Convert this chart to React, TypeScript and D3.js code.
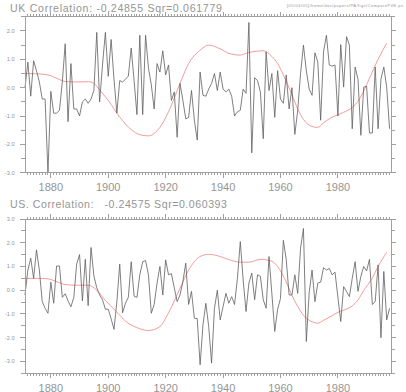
import React, { useLayoutEffect, useRef } from 'react';
import * as d3 from 'd3';

const startYear = 1871;
const ukValues = [
  0.0, 0.9, -0.3, 0.95, 0.6, 0.2, -0.4, -0.4, -3.0, -0.13,
  -0.9, -0.9, -0.8, 0.2, 1.55, -1.2, 0.85, -0.75, -0.75, -1.0,
  -0.5, -0.4, -0.55, -0.4, -0.1, 1.95, -0.5, 0.8, 1.95, 0.4,
  1.7, 0.3, -0.9, 0.25, 0.2, 0.3, 0.4, 1.4, 0.25, -0.95,
  1.85, -0.95, 1.85, 0.7, 0.1, -0.75, 0.85, 0.55, 1.3, 0.45,
  0.8, -0.45, -0.15, -1.75, 0.15, -0.45, -1.1, -1.05, -0.1, -1.15,
  -1.85, 0.55, -0.27, -0.3, -0.05, 0.15, 0.5, -0.1, 0.55, -0.05,
  -0.15, -0.05, -0.3, -1.0, -0.85, -0.8, -0.05, -0.2, 2.3, -2.3,
  0.35, 0.25, -0.15, -1.8, 1.26, -0.1, 0.5, -1.05, 0.6, -0.4,
  -0.55, 0.45, -0.75, 0.0, -1.65, -0.8, 0.5, 1.5, 0.6, -0.05,
  -0.27, 1.23, 0.9, -1.15, 1.26, 1.85, 0.8, 0.76, 0.8, -1.0,
  1.52, 0.02, 1.8, 1.5, -1.45, 0.73, 0.3, -1.68, 0.02, 0.05,
  -1.6, -1.6, 0.73, -1.45, 0.3, 0.73, 0.02, -1.45,
];
const usValues = [
  -0.2, 0.85, 1.35, 0.5, 1.7, 0.85, -0.48, -0.76, -0.97, 0.34,
  -0.55, 1.02, 1.02, -0.3, -0.15, -0.45, -0.7, -0.3, 1.1, 1.5,
  -0.45, 1.3, -0.65, 1.8, 0.6, 0.1, -0.2, -0.4, -0.8, -0.8,
  -1.2, -1.65, -0.5, 1.1, -0.95, -0.55, -0.3, 1.2, -0.25, -0.3,
  0.65, 1.2, 1.25, 0.65, -0.97, -0.6, 0.3, 1.0, -0.2, 1.28,
  0.65, 0.7, 0.1, -0.48, -0.2, 0.36, 1.14, -0.6, -0.05, -1.18,
  -1.2, -3.14, -1.46, -0.55, -1.53, -3.07, -0.76, 0.0, -1.25, -0.69,
  -0.13, -0.55, -0.27, -0.6, 0.5, 2.05, 0.43, -0.9, 0.3, 0.72,
  -0.4, 0.65, 0.58, -0.4, -0.76, 1.42, -0.15, -1.74, -0.8, -0.35,
  2.1, 1.3, -0.2, -0.2, 0.65, -0.13, 1.77, 2.6, -2.16, -0.1,
  0.85, -0.48, 0.3, 0.34, 0.95, 0.85, 0.92, 0.65, 0.76, -0.3,
  -1.32, 0.15, -0.05, -0.27, 0.5, 1.2, -0.05, 0.58, 1.0, 0.81,
  1.3, -0.6, -0.48, 1.07, -2.0, 0.79, -1.25, -0.76,
];
const ukSmoothYears = [1871, 1875, 1879, 1882, 1885, 1889, 1893, 1895, 1897, 1900, 1904, 1908, 1911, 1914, 1918, 1921, 1925, 1928, 1932, 1935, 1939, 1942, 1946, 1949, 1954, 1957, 1959, 1961, 1964, 1966, 1968, 1971, 1973, 1975, 1978, 1980, 1982, 1985, 1987, 1989, 1991, 1994, 1997];
const ukSmoothValues = [0.5, 0.49, 0.45, 0.33, 0.22, 0.2, 0.21, 0.15, -0.08, -0.45, -1.04, -1.48, -1.66, -1.7, -1.4, -0.85, 0.15, 0.85, 1.32, 1.5, 1.37, 1.21, 1.15, 1.24, 1.3, 1.1, 0.85, 0.45, -0.25, -0.75, -1.12, -1.37, -1.4, -1.24, -1.04, -0.96, -0.87, -0.7, -0.48, -0.12, 0.33, 1.0, 1.57];
const usSmoothYears = [1871, 1875, 1879, 1882, 1885, 1889, 1893, 1896, 1899, 1903, 1906, 1911, 1914, 1918, 1921, 1925, 1928, 1932, 1935, 1939, 1942, 1946, 1949, 1953, 1957, 1959, 1962, 1964, 1966, 1968, 1971, 1973, 1975, 1978, 1980, 1982, 1985, 1987, 1989, 1992, 1994, 1997];
const usSmoothValues = [0.5, 0.5, 0.48, 0.36, 0.24, 0.21, 0.21, 0.0, -0.43, -0.92, -1.3, -1.62, -1.7, -1.53, -0.95, 0.08, 0.85, 1.42, 1.51, 1.42, 1.29, 1.18, 1.18, 1.3, 1.22, 1.0, 0.35, -0.22, -0.68, -1.05, -1.33, -1.39, -1.27, -1.07, -0.93, -0.84, -0.66, -0.41, -0.01, 0.52, 1.0, 1.6];
const xTickYears = [1880, 1900, 1920, 1940, 1960, 1980];
const ukYTicks = [-3, -2, -1, 0, 1, 2];
const usYTicks = [-3, -2, -1, 0, 1, 2, 3];
const ukTitle = 'UK Correlation: -0.24855 Sqr=0.061779';
const usTitle = 'US. Correlation:   -0.24575 Sqr=0.060393';
const fileStamp = '[05/04/05]/home/dev/papers/PA/figs/ComparePVE.ps';

const AXIS = '#a0a0a0';
const TEXT = '#959595';
const LINE = '#606060';
const SMOOTH = '#f29090';
const FONT = '"Liberation Sans", Arial, sans-serif';

type FitProps = { x: number; y: number; width: number; fontSize: number; text: string };

function FitText({ x, y, width, fontSize, text }: FitProps) {
  const ref = useRef<SVGTextElement>(null);
  useLayoutEffect(() => {
    const el = ref.current;
    if (!el) return;
    el.style.letterSpacing = '0px';
    el.removeAttribute('transform');
    const w0 = el.getBBox().width;
    const n = text.length;
    const ls = (width - w0) / Math.max(1, n - 1);
    el.style.letterSpacing = ls + 'px';
    const w1 = el.getBBox().width;
    if (w1 > 0 && Math.abs(w1 - width) > 3) {
      el.style.letterSpacing = '0px';
      const s = width / w0;
      el.setAttribute('transform', `translate(${x} 0) scale(${s} 1) translate(${-x} 0)`);
    }
  }, [width, text, x]);
  return (
    <text ref={ref} x={x} y={y} fontSize={fontSize} fill={TEXT} fontFamily={FONT}
      style={{ whiteSpace: 'pre' }}>
      {text}
    </text>
  );
}

type PanelProps = {
  top: number;
  bottom: number;
  yDomain: [number, number];
  yTicks: number[];
  values: number[];
  smoothYears: number[];
  smoothValues: number[];
  labelBaseline: number;
};

const x = d3.scaleLinear().domain([1871, 1998.5]).range([25, 391]);

function Panel({ top, bottom, yDomain, yTicks, values, smoothYears, smoothValues, labelBaseline }: PanelProps) {
  const y = d3.scaleLinear().domain(yDomain).range([bottom, top]);
  const left = x.range()[0];
  const right = x.range()[1];
  const data = values.map((v, i) => ({ yr: startYear + i, v }));
  const sm = smoothYears.map((yr, i) => ({ yr, v: smoothValues[i] }));
  const line = d3.line<{ yr: number; v: number }>().x(d => x(d.yr)).y(d => y(d.v));
  const smooth = d3.line<{ yr: number; v: number }>().x(d => x(d.yr)).y(d => y(d.v)).curve(d3.curveMonotoneX);
  const yMinor = d3.range(yDomain[0], yDomain[1] + 0.001, 0.5);
  const xMinor = d3.range(1872, 1999, 1);
  return (
    <g>
      <path d={smooth(sm) || ''} fill="none" stroke={SMOOTH} strokeWidth={0.9} />
      <path d={line(data) || ''} fill="none" stroke={LINE} strokeWidth={0.8} />
      <g stroke={AXIS} strokeWidth={1} shapeRendering="crispEdges">
        <rect x={left} y={top} width={right - left} height={bottom - top} fill="none" />
        {yMinor.map(t => {
          const major = Math.abs(t - Math.round(t)) < 1e-6;
          const len = major ? 5 : 4;
          return (
            <g key={'y' + t}>
              <line x1={left - len} x2={left} y1={y(t)} y2={y(t)} />
              <line x1={right} x2={right + len} y1={y(t)} y2={y(t)} />
            </g>
          );
        })}
        {xMinor.map(t => {
          const major = xTickYears.includes(t);
          const len = major ? 5 : 2.5;
          return (
            <g key={'x' + t}>
              <line x1={x(t)} x2={x(t)} y1={bottom} y2={bottom + len} />
              <line x1={x(t)} x2={x(t)} y1={top - len} y2={top} />
            </g>
          );
        })}
      </g>
      <g fill={TEXT} fontFamily={FONT}>
        {yTicks.map(t => (
          <text key={'yl' + t} x={14.5} y={y(t)} dy="0.35em" fontSize={5.6} textAnchor="end">
            {t.toFixed(1)}
          </text>
        ))}
        {xTickYears.map(t => (
          <text key={'xl' + t} x={x(t)} y={labelBaseline} fontSize={11} textAnchor="middle">
            {t}
          </text>
        ))}
      </g>
    </g>
  );
}

export default function App() {
  return (
    <svg width={406} height={392} viewBox="0 0 406 392" style={{ display: 'block', position: 'absolute', left: 0, top: 0, background: '#fff' }}>
      <rect x={0} y={0} width={406} height={392} fill="#fff" />
      <FitText x={10} y={12} width={212} fontSize={10.6} text={ukTitle} />
      <FitText x={287} y={6.5} width={116} fontSize={4} text={fileStamp} />
      <FitText x={10} y={207.5} width={217} fontSize={10.6} text={usTitle} />
      <Panel top={16.8} bottom={172.7} yDomain={[-3, 2.5]} yTicks={ukYTicks} values={ukValues}
        smoothYears={ukSmoothYears} smoothValues={ukSmoothValues} labelBaseline={190.8} />
      <Panel top={219} bottom={373.3} yDomain={[-3.5, 3]} yTicks={usYTicks} values={usValues}
        smoothYears={usSmoothYears} smoothValues={usSmoothValues} labelBaseline={391.5} />
    </svg>
  );
}
